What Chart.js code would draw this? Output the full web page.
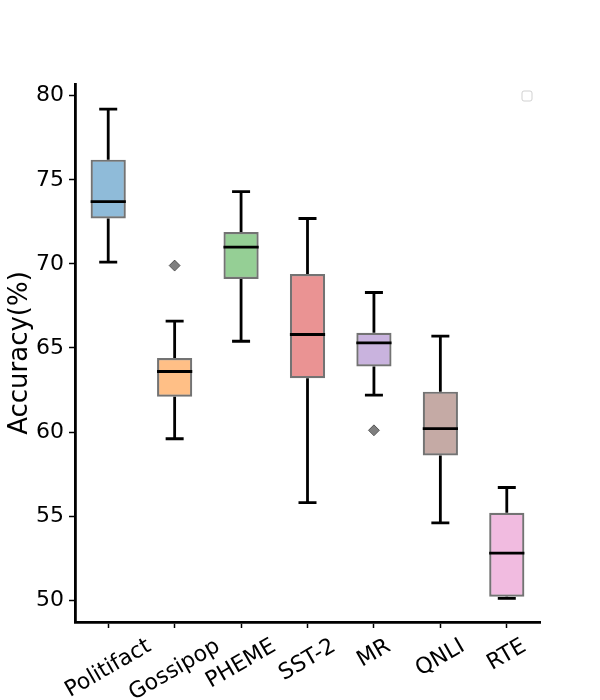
<!DOCTYPE html>
<html>
<head>
<meta charset="utf-8">
<script src="https://cdn.jsdelivr.net/npm/chart.js@4/dist/chart.umd.min.js"></script>
<style>
  html, body { margin: 0; padding: 0; background: #fff; }
  #wrap { width: 600px; height: 700px; }
</style>
</head>
<body>
<div id="wrap"><canvas id="myChart" width="600" height="700"></canvas></div>
<script>
const categories = ["Politifact", "Gossipop", "PHEME", "SST-2", "MR", "QNLI", "RTE"];
const whiskerLow = [70.1, 59.6, 65.4, 55.8, 62.2, 54.6, 50.1];
const q1 = [72.7, 62.1, 69.1, 63.2, 63.9, 58.6, 50.2];
const median = [73.7, 63.6, 71.0, 65.8, 65.3, 60.2, 52.8];
const q3 = [76.2, 64.4, 71.9, 69.4, 65.9, 62.4, 55.2];
const whiskerHigh = [79.2, 66.6, 74.3, 72.7, 68.3, 65.7, 56.7];
const outliers = [null, 69.9, null, null, 60.1, null, null];
const yTicks = [50, 55, 60, 65, 70, 75, 80];
const boxColors = [
  "rgba(31,119,180,0.5)", "rgba(255,127,14,0.5)", "rgba(44,160,44,0.5)",
  "rgba(214,39,40,0.5)", "rgba(148,103,189,0.5)", "rgba(140,86,75,0.5)",
  "rgba(227,119,194,0.5)"
];

const FONT = "'DejaVu Sans', sans-serif";

// whiskers, caps, medians, x labels and the empty legend box
const boxExtras = {
  id: "boxExtras",
  afterDatasetsDraw(chart) {
    const ctx = chart.ctx;
    const xs = chart.scales.x, ys = chart.scales.y;
    const bars = chart.getDatasetMeta(0).data;
    ctx.save();
    ctx.strokeStyle = "#000";
    ctx.lineWidth = 2.8;
    ctx.lineCap = "butt";
    categories.forEach((c, i) => {
      const x = xs.getPixelForValue(i);
      const half = bars[i].width / 2;
      const cap = 9;
      ctx.beginPath();
      ctx.moveTo(x, ys.getPixelForValue(q1[i]));
      ctx.lineTo(x, ys.getPixelForValue(whiskerLow[i]));
      ctx.moveTo(x, ys.getPixelForValue(q3[i]));
      ctx.lineTo(x, ys.getPixelForValue(whiskerHigh[i]));
      ctx.moveTo(x - cap, ys.getPixelForValue(whiskerLow[i]));
      ctx.lineTo(x + cap, ys.getPixelForValue(whiskerLow[i]));
      ctx.moveTo(x - cap, ys.getPixelForValue(whiskerHigh[i]));
      ctx.lineTo(x + cap, ys.getPixelForValue(whiskerHigh[i]));
      ctx.moveTo(x - half, ys.getPixelForValue(median[i]));
      ctx.lineTo(x + half, ys.getPixelForValue(median[i]));
      ctx.stroke();
    });
    ctx.restore();
  },
  afterDraw(chart) {
    const ctx = chart.ctx;
    const xs = chart.scales.x;
    ctx.save();
    ctx.font = "22px " + FONT;
    ctx.fillStyle = "#000";
    ctx.textAlign = "center";
    ctx.textBaseline = "middle";
    categories.forEach((c, i) => {
      const w = ctx.measureText(c).width;
      const bh = w * 0.5 + 25 * 0.866;
      const x = xs.getPixelForValue(i);
      const cy = chart.chartArea.bottom + 12 + bh / 2;
      ctx.save();
      ctx.translate(x, cy);
      ctx.rotate(-Math.PI / 6);
      ctx.fillText(c, 0, 0);
      ctx.restore();
    });
    // empty legend frame
    const lx = chart.chartArea.right - 18, ly = chart.chartArea.top + 7;
    ctx.strokeStyle = "rgba(204,204,204,0.9)";
    ctx.lineWidth = 1;
    ctx.beginPath();
    ctx.roundRect(lx, ly, 10, 10, 2);
    ctx.stroke();
    ctx.restore();
  }
};

new Chart("myChart", {
  type: "bar",
  data: {
    labels: categories,
    datasets: [{
      data: categories.map((c, i) => [q1[i], q3[i]]),
      backgroundColor: boxColors,
      borderColor: "rgba(0,0,0,0.55)",
      borderWidth: 2.2,
      borderSkipped: false,
      barPercentage: 0.53,
      categoryPercentage: 1.0,
      order: 2
    }, {
      type: "line",
      data: outliers,
      showLine: false,
      pointStyle: "rectRot",
      pointRadius: 5.5,
      pointBackgroundColor: "rgba(0,0,0,0.5)",
      pointBorderColor: "rgba(0,0,0,0.5)",
      pointBorderWidth: 1,
      order: 1
    }]
  },
  options: {
    responsive: false,
    animation: false,
    layout: { padding: { top: 84, right: 60, left: 0, bottom: 0 } },
    plugins: { legend: { display: false }, tooltip: { enabled: false } },
    scales: {
      x: {
        offset: true,
        grid: { display: true, offset: false, drawOnChartArea: false, drawTicks: true, tickLength: 6, tickWidth: 1.5, tickColor: "#000" },
        border: { display: true, color: "#000", width: 2.8 },
        ticks: { display: false },
        afterFit(s) { s.height = 78; }
      },
      y: {
        min: 48.7,
        max: 80.7,
        grid: { display: true, drawOnChartArea: false, drawTicks: true, tickLength: 6, tickWidth: 1.5, tickColor: "#000" },
        border: { display: true, color: "#000", width: 2.8 },
        ticks: { color: "#000", font: { family: FONT, size: 22 }, padding: 5 },
        afterBuildTicks(s) { s.ticks = yTicks.map(v => ({ value: v })); },
        title: { display: true, text: "Accuracy(%)", color: "#000", font: { family: FONT, size: 26 }, padding: { top: 5, bottom: 0 } },
        afterFit(s) { s.width = 75; }
      }
    }
  },
  plugins: [boxExtras]
});
</script>
</body>
</html>
